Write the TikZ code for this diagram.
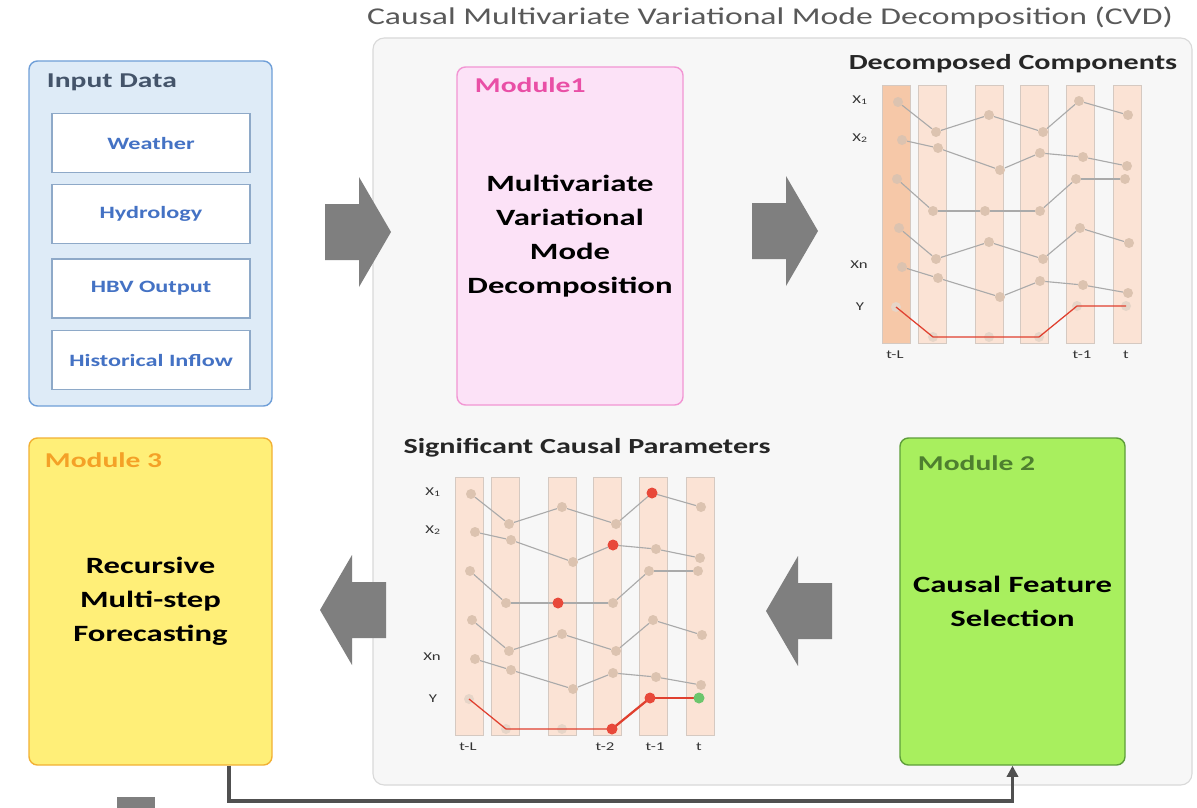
\documentclass[tikz,border=0pt]{standalone}
\usepackage{fontspec}
\setmainfont[FakeStretch=1.4]{Carlito}
\usepackage{xcolor}
\usetikzlibrary{positioning,arrows.meta,calc}

\definecolor{panelfill}{HTML}{F7F7F7}
\definecolor{panelline}{HTML}{D9D9D9}
\definecolor{titlegray}{HTML}{595959}
\definecolor{inputfill}{HTML}{DEEBF7}
\definecolor{inputline}{HTML}{6F9FD8}
\definecolor{inputhead}{HTML}{44546A}
\definecolor{itemtext}{HTML}{4472C4}
\definecolor{itemline}{HTML}{8EA9C8}
\definecolor{mAfill}{HTML}{FCE2F7}
\definecolor{mAline}{HTML}{F296D3}
\definecolor{mAtext}{HTML}{E94FA6}
\definecolor{mBfill}{HTML}{A8EF5E}
\definecolor{mBline}{HTML}{5E9E3A}
\definecolor{mBtext}{HTML}{4E7F2F}
\definecolor{mCfill}{HTML}{FFEF78}
\definecolor{mCline}{HTML}{F2B134}
\definecolor{mCtext}{HTML}{F4A127}
\definecolor{arrowgray}{HTML}{7F7F7F}
\definecolor{stripefill}{HTML}{FBE3D5}
\definecolor{stripedark}{HTML}{F6C8A8}
\definecolor{stripeline}{HTML}{D5C9C1}
\definecolor{dotfill}{HTML}{DCC3B0}
\definecolor{linkgray}{HTML}{AAAAAA}
\definecolor{yred}{HTML}{E0402F}
\definecolor{hotred}{HTML}{E8493A}
\definecolor{okgreen}{HTML}{6CC66C}

\def\pxu{0.025cm}

\tikzset{
  cvdpanel/.style={draw=panelline, fill=panelfill, rounded corners=8pt, line width=0.8pt,
    minimum width=819*\pxu, minimum height=747*\pxu},
  cvdtitle/.style={text=titlegray, font=\fontsize{17.1}{20}\selectfont},
  inputpanel/.style={draw=inputline, fill=inputfill, rounded corners=6pt, line width=1pt,
    minimum width=243*\pxu, minimum height=345*\pxu},
  inputitem/.style={draw=itemline, fill=white, line width=0.8pt, text=itemtext,
    font=\fontsize{12.3}{14}\bfseries, minimum width=198*\pxu, minimum height=59*\pxu},
  panelhead/.style={anchor=west, font=\fontsize{15}{18}\bfseries},
  modbox/.style={rounded corners=6pt, line width=1pt, align=center,
    font=\fontsize{16.6}{24.2}\bfseries},
  blockarrow/.style={fill=arrowgray},
  feedback/.style={draw=titlegray!90!black, line width=2.2pt, -{Triangle[length=8pt,width=8pt]}},
  charttitle/.style={font=\fontsize{15.3}{18}\bfseries, text=black!85},
  axlab/.style={font=\fontsize{8.5}{10}\selectfont, text=black!80},
  stripe/.style={fill=stripefill, draw=stripeline, line width=0.6pt},
  firststripe/.style={},
  dot/.style={circle, fill=dotfill, inner sep=0pt, minimum size=10*\pxu},
  ydot/.style={circle, fill=dotfill!70, inner sep=0pt, minimum size=10*\pxu},
  hotdot/.style={circle, fill=hotred, inner sep=0pt, minimum size=11*\pxu},
  gooddot/.style={circle, fill=okgreen, inner sep=0pt, minimum size=11*\pxu},
  dotlink/.style={draw=linkgray, line width=0.8pt},
  yline/.style={draw=yred, line width=0.9pt},
}

% one strip chart of the decomposed components
\newcommand{\compchart}{%
  % stripes
  \foreach \cx in {896,932.5,989,1034.5,1080,1127.5}
    \draw[stripe] (\cx-14,85) rectangle (\cx+14,343);
  \draw[stripe, firststripe] (882,85) rectangle (910,343);
  % dots, one row per series
  \foreach \ri/\pts in {1/{898/102,936/132,989/115,1043/132,1079/101,1128/115},
                        2/{902/140,938/148,1000/170,1040/153,1083/157,1127/166},
                        3/{897/179,933/211,985/211,1040/211,1076/179,1125/179},
                        4/{899/228,936/259,989/242,1043/259,1080/228,1129/243},
                        5/{902/267,938/278,1000/297,1040/281,1083/285,1128/293}}
    \foreach \dx/\dy [count=\ci] in \pts
      \node[dot] (dot\ri\ci) at (\dx,\dy) {};
  \foreach \dx/\dy [count=\ci] in {896/307,933/337,989/337,1039/337,1077/306,1126/306}
    \node[ydot] (dot6\ci) at (\dx,\dy) {};
  % links between time steps
  \foreach \ri in {1,...,5}
  {
    \draw[dotlink] (dot\ri1) -- (dot\ri2);
    \draw[dotlink] (dot\ri2) -- (dot\ri3);
    \draw[dotlink] (dot\ri3) -- (dot\ri4);
    \draw[dotlink] (dot\ri4) -- (dot\ri5);
    \draw[dotlink] (dot\ri5) -- (dot\ri6);
  }
  \draw[yline] (dot61.center) -- (dot62.center) -- (dot63.center) -- (dot64.center)
    -- (dot65.center) -- (dot66.center);
  % labels
  \node[axlab] (lx1) at (860,100) {X\textsubscript{1}};
  \node[axlab] (lx2) at (860,138) {X\textsubscript{2}};
  \node[axlab] (lxn) at (859,265) {Xn};
  \node[axlab] (ly) at (860,307) {Y};
  \node[axlab] (ltL) at (895,355) {t-L};
  \node[axlab] (lt1) at (1082,355) {t-1};
  \node[axlab] (lt) at (1126,355) {t};
}

\begin{document}
\begin{tikzpicture}[x=0.025cm, y=-0.025cm]
  \fill[white] (0,0) rectangle (1197,808);
  \useasboundingbox (0,0) rectangle (1197,808);

  % CVD frame
  \node[cvdpanel] (cvd) at (782.5,411.5) {};
  \node[cvdtitle] (cvdtitle) at (770,18) {Causal Multivariate Variational Mode Decomposition (CVD)};

  % Input data
  \node[inputpanel] (input) at (150.5,233.5) {};
  \node[panelhead, text=inputhead] (inputlab) at (42,82) {Input Data};
  \foreach \nm/\txt/\yy in {weather/Weather/143, hydro/Hydrology/214,
                            hbv/HBV Output/288.5, hist/Historical Inflow/360}
    \node[inputitem] (\nm) at (151,\yy) {\txt};

  % Modules
  \node[modbox, fill=mAfill, draw=mAline, minimum width=226*\pxu, minimum height=338*\pxu]
    (m1) at (570,236) {Multivariate\\Variational\\Mode\\Decomposition};
  \node[panelhead, text=mAtext] (m1lab) at (470,85) {Module1};

  \node[modbox, fill=mBfill, draw=mBline, minimum width=225*\pxu, minimum height=327*\pxu]
    (m2) at (1012.5,601.5) {Causal Feature\\Selection};
  \node[panelhead, text=mBtext] (m2lab) at (913,463) {Module 2};

  \node[modbox, fill=mCfill, draw=mCline, minimum width=243*\pxu, minimum height=327*\pxu]
    (m3) at (150.5,601.5) {Recursive\\Multi-step\\Forecasting};
  \node[panelhead, text=mCtext] (m3lab) at (40,460) {Module 3};

  % Block arrows
  \foreach \ax/\ay/\dir in {325/232/1, 752/231/1, 832/611/-1, 386/610/-1}
  {
    \begin{scope}[shift={(\ax,\ay)}, xscale=\dir]
      \fill[blockarrow] (0,-28) -- (34,-28) -- (34,-55) -- (66,0) -- (34,55)
        -- (34,28) -- (0,28) -- cycle;
    \end{scope}
  }
  \fill[blockarrow] (117,797) rectangle (155,808);

  % Decomposed components
  \node[charttitle] (dectitle) at (1013,64) {Decomposed Components};
  \begin{scope}[name prefix=up-, firststripe/.style={fill=stripedark}]
    \compchart
  \end{scope}

  % Significant causal parameters
  \node[charttitle] (sigtitle) at (587,448) {Significant Causal Parameters};
  \begin{scope}[shift={(-427,392)}, name prefix=lo-]
    \compchart
    \node[axlab] (lt2) at (1032,355) {t-2};
    \draw[yline, line width=1.6pt] (dot64.center) -- (dot65.center);
    \draw[yline, line width=1.2pt] (dot65.center) -- (dot66.center);
    \foreach \d in {dot15,dot24,dot33,dot64,dot65}
      \node[hotdot] (hot\d) at (\d) {};
    \node[gooddot] (good66) at (dot66) {};
  \end{scope}

  % Feedback from module 3 to module 2
  \coordinate (fbcorner) at (229,801);
  \draw[feedback] (m3.south -| fbcorner) -- (fbcorner) -| (m2.south);
\end{tikzpicture}
\end{document}
